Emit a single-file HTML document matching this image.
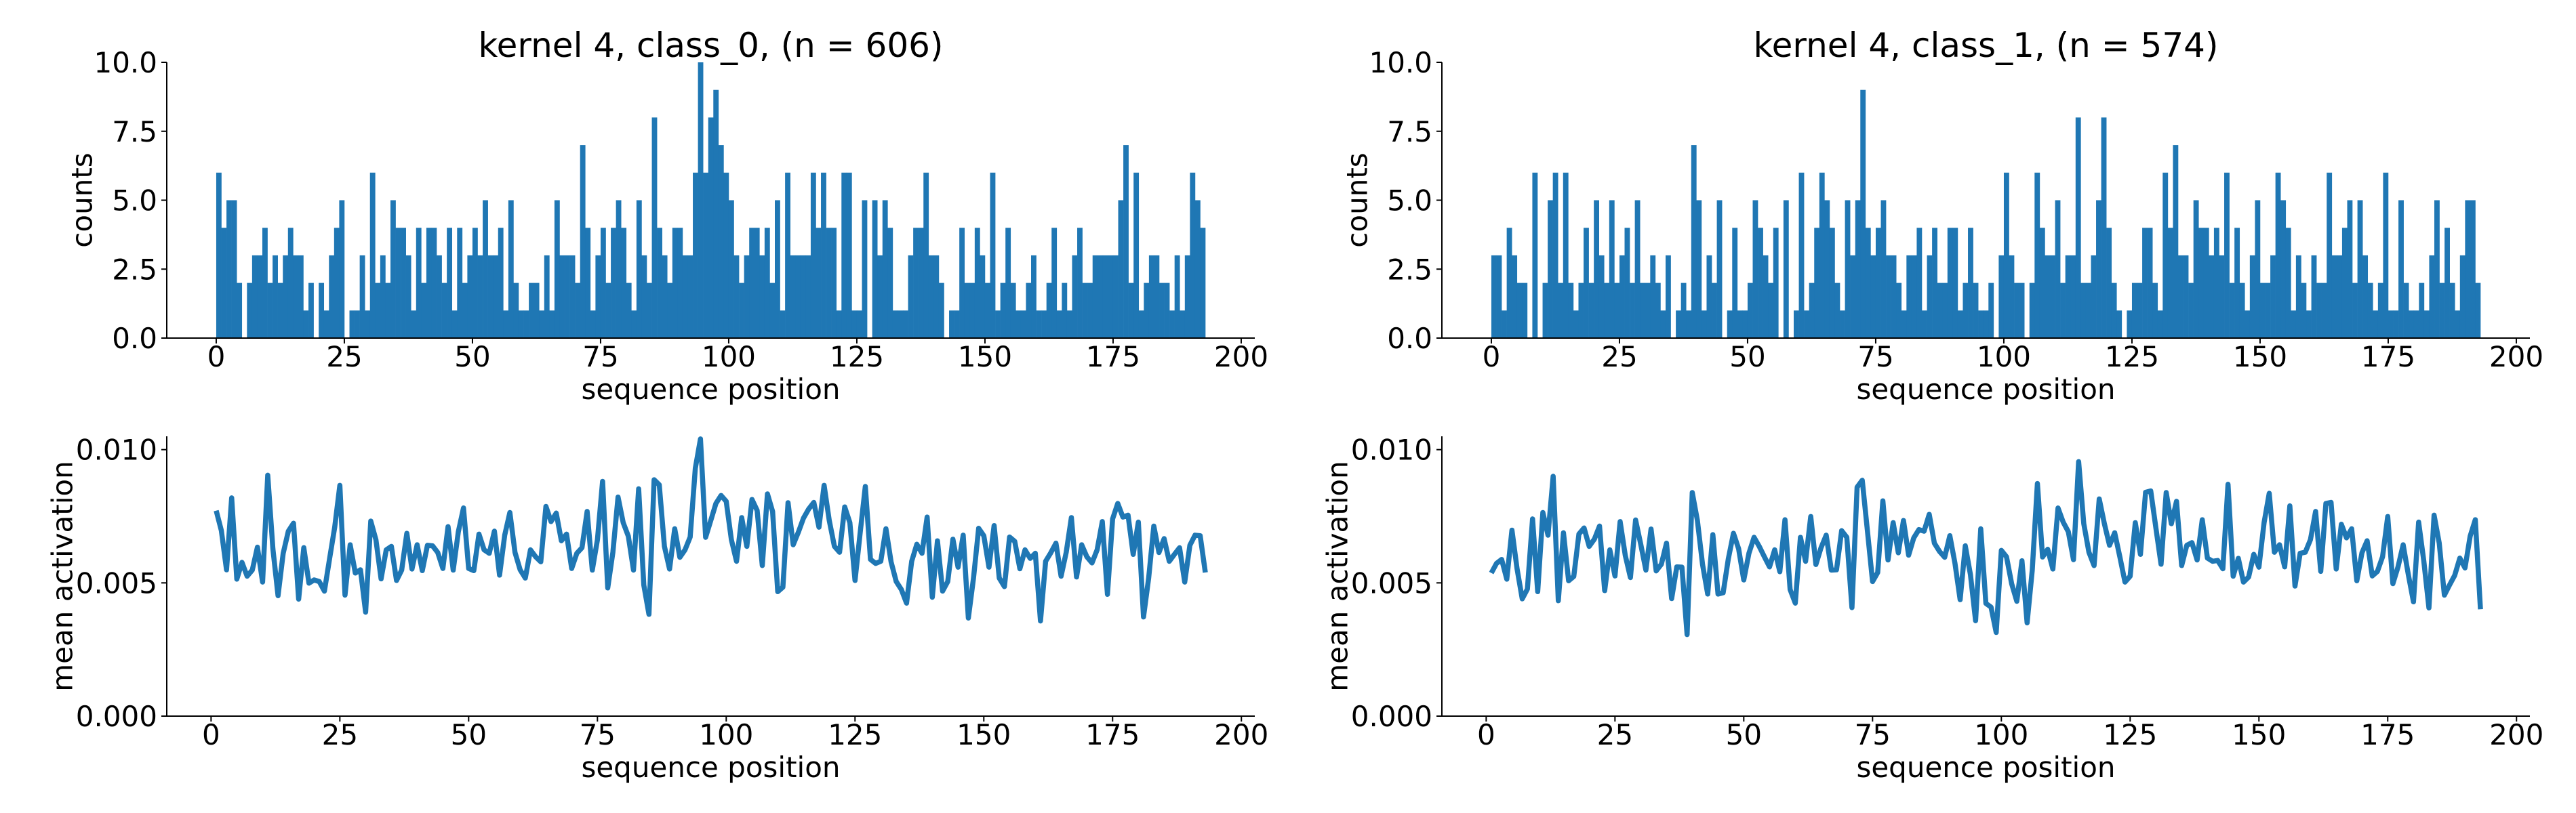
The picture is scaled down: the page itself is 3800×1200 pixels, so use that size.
<!DOCTYPE html>
<html><head><meta charset="utf-8">
<style>
html,body{margin:0;padding:0;background:#fff;}
svg{display:block;}
text{font-family:"DejaVu Sans","Liberation Sans",sans-serif;fill:#000;}
</style></head>
<body>
<svg id="chart" xmlns="http://www.w3.org/2000/svg" width="3800" height="1200" viewBox="0 0 3800 1200"></svg>
<script>
// ---- data ----
const histCounts0 = [6,4,5,5,2,0,2,3,3,4, 2,3,2,3,4,3,3,1,2,0, 2,1,3,4,5,0,1,1,3,1, 6,2,3,2,5,4,4,3,1,4, 2,4,4,3,2,4,1,4,2,3, 4,3,5,3,3,4,1,5,2,1, 1,2,2,1,3,1,5,3,3,3, 2,7,4,1,3,4,2,4,5,4, 2,1,5,3,2,8,4,3,2,4, 4,3,3,6,10,6,8,9,7,6, 5,3,2,3,4,4,3,4,2,5, 1,6,3,3,3,3,6,4,6,4, 4,1,6,6,1,1,5,0,5,3, 5,4,1,1,1,3,4,4,6,3, 3,2,0,1,1,4,2,2,4,3, 2,6,1,2,4,2,1,1,2,3, 1,1,2,4,1,2,1,3,4,2, 2,3,3,3,3,3,5,7,2,6, 1,2,3,3,2,2,1,3,1,3, 6,5,4];
const histCounts1 = [3,3,1,4,3,2,2,0,6,0, 2,5,6,2,6,2,1,2,4,2, 5,3,2,5,2,3,4,2,5,2, 2,3,2,1,3,0,1,2,1,7, 5,1,3,2,5,0,1,4,1,1, 2,5,4,3,2,4,0,5,0,1, 6,1,2,4,6,5,4,2,1,5, 3,5,9,4,3,4,5,3,3,2, 1,3,3,4,1,3,4,2,2,4, 4,1,2,4,2,1,1,2,0,3, 6,3,2,2,0,2,6,4,3,3, 5,2,3,3,8,2,2,3,5,8, 4,2,1,0,1,2,2,4,4,2, 1,6,4,7,3,3,2,5,4,4, 3,4,3,6,2,4,2,1,3,5, 2,2,3,6,5,4,1,3,2,1, 3,2,2,6,3,3,4,5,2,5, 3,2,1,2,6,1,1,5,2,1, 1,2,1,3,5,2,4,2,1,3, 5,5,2];
// mean activation values (x1e-3), positions 1..193
const meanAct0 = [7.71,6.96,5.49,8.19,5.14,5.77,5.25,5.48,6.34,5.03, 9.04,6.28,4.52,6.11,6.94,7.24,4.39,6.32,4.99,5.11, 5.05,4.69,5.90,7.09,8.66,4.54,6.43,5.37,5.49,3.90, 7.32,6.62,5.15,6.24,6.37,5.09,5.48,6.86,5.52,6.43, 5.46,6.41,6.39,6.14,5.54,7.11,5.48,6.92,7.81,5.54, 5.46,6.83,6.24,6.11,6.94,5.29,6.79,7.64,6.14,5.49, 5.18,6.24,5.98,5.79,7.87,7.30,7.62,6.58,6.83,5.54, 6.11,6.32,7.68,5.48,6.62,8.81,4.81,6.15,8.22,7.26, 6.75,5.48,8.53,4.92,3.82,8.87,8.68,6.37,5.52,7.03, 5.96,6.24,6.72,9.30,10.4,6.71,7.34,7.98,8.28,8.06, 6.62,5.81,7.45,6.37,8.13,7.72,5.65,8.34,7.68,4.67, 4.84,8.01,6.43,6.90,7.43,7.77,8.02,7.09,8.66,7.34, 6.37,6.15,7.85,7.26,5.09,6.88,8.62,5.88,5.73,5.81, 7.03,5.79,5.05,4.75,4.24,5.81,6.45,6.11,7.47,4.46, 6.58,4.69,5.05,6.64,5.59,6.79,3.68,5.18,7.05,6.77, 5.59,7.15,5.18,4.86,6.72,6.56,5.53,6.24,5.92,6.11, 3.57,5.81,6.13,6.49,5.25,6.15,7.45,5.22,6.43,5.98, 5.75,6.24,7.30,4.57,7.40,7.98,7.47,7.54,6.07,7.28, 3.72,5.18,7.13,6.14,6.66,5.81,6.07,6.32,5.03,6.41, 6.79,6.77,5.39];
const meanAct1 = [5.37,5.73,5.88,5.14,6.98,5.52,4.40,4.77,7.40,4.67, 7.64,6.79,9.00,4.33,6.88,5.08,5.24,6.83,7.06,6.37, 6.64,7.13,4.71,6.24,5.26,7.30,6.03,5.20,7.36,6.45, 5.48,7.02,5.45,5.70,6.49,4.41,5.60,5.59,3.06,8.39, 7.34,5.69,4.58,6.81,4.58,4.63,5.90,6.86,6.28,5.11, 6.11,6.71,6.37,5.98,5.60,6.24,5.42,7.37,4.75,4.24, 6.71,5.81,7.49,5.69,6.32,6.79,5.48,5.49,6.96,6.71, 4.07,8.59,8.85,6.96,5.05,5.39,8.08,5.86,7.26,6.13, 7.34,6.04,6.69,7.00,6.94,7.57,6.49,6.18,5.96,6.77, 5.73,4.37,6.39,5.31,3.58,7.03,4.23,4.09,3.14,6.22, 5.98,4.97,4.31,5.83,3.50,5.48,8.73,5.97,6.26,5.52, 7.81,7.28,6.92,5.87,9.55,7.22,6.15,5.65,8.15,7.22, 6.41,6.88,5.98,5.03,5.25,7.26,6.07,8.40,8.45,7.06, 5.70,8.39,7.22,8.06,5.65,6.41,6.51,5.86,7.37,5.93, 5.81,5.84,5.53,8.70,5.25,5.92,5.03,5.22,6.07,5.59, 7.26,8.36,6.15,6.43,5.60,7.89,4.88,6.11,6.15,6.62, 7.68,5.43,7.98,8.02,5.52,7.20,6.69,7.03,5.08,6.13, 6.58,5.26,5.43,5.98,7.49,4.97,5.60,6.43,5.31,4.29, 7.28,5.83,4.06,7.54,6.49,4.54,4.92,5.28,5.93,5.56, 6.75,7.37,4.01];
const titles = ["kernel 4, class_0, (n = 606)", "kernel 4, class_1, (n = 574)"];
const xTicks = [0,25,50,75,100,125,150,175,200];
const histYTicks = [0,2.5,5,7.5,10];
const histYTickLabels = ["0.0","2.5","5.0","7.5","10.0"];
const lineYTicks = [0,0.005,0.010];
const lineYTickLabels = ["0.000","0.005","0.010"];

// ---- layout ----
const svg = document.getElementById('chart');
const NS = 'http://www.w3.org/2000/svg';
const BLUE = '#1f77b4';
const FS = 42;
function mk(tag, attrs, parent){
  const e = document.createElementNS(NS, tag);
  for (const k in attrs) e.setAttribute(k, attrs[k]);
  (parent||svg).appendChild(e);
  return e;
}
function linScale(d0,d1,r0,r1){ return v => r0 + (v-d0)/(d1-d0)*(r1-r0); }

const panels = [
  {left:246, hist:histCounts0, line:meanAct0, title:titles[0], key:'class0'},
  {left:2127, hist:histCounts1, line:meanAct1, title:titles[1], key:'class1'}
];
const W = 1605;

panels.forEach(p => {
  const L = p.left, R = L + W;
  const hTop = 92, hBot = 499;
  const nb = p.hist.length;
  const hx = linScale(-0.05*nb, nb*1.05, L, R);
  const hy = linScale(0, 10, hBot, hTop);
  const gH = mk('g', {});
  
  
  p.hist.forEach((c, i) => {
    if (c <= 0) return;
    const r = mk('rect', {x: hx(i), y: hy(c), width: hx(i+1)-hx(i)+0.3, height: hy(0)-hy(c), fill: BLUE}, gH);
    
    
  });
  drawAxes(L, R, hTop, hBot, hx, hy, histYTicks, histYTickLabels, 'counts', p.key + '-hist');
  const t = mk('text', {x: (L+R)/2, y: 84, 'font-size': 50, 'text-anchor': 'middle'});
  t.textContent = p.title;
  
  

  const lTop = 644, lBot = 1057;
  const n = p.line.length;
  const lx = linScale(1 - 0.05*(n-1), n + 0.05*(n-1), L, R);
  const ly = linScale(0, 0.0105, lBot, lTop);
  const pts = p.line.map((v, i) => lx(i+1).toFixed(2) + ',' + ly(v*1e-3).toFixed(2)).join(' ');
  const pl = mk('polyline', {points: pts, fill: 'none', stroke: BLUE, 'stroke-width': 7.5, 'stroke-linejoin': 'round'});
  
  
  drawAxes(L, R, lTop, lBot, lx, ly, lineYTicks, lineYTickLabels, 'mean activation', p.key + '-line');
});

function drawAxes(L, R, top, bot, sx, sy, yt, ytl, ylabel, key){
  const g = mk('g', {});
  
  
  mk('line', {x1: L, y1: top, x2: L, y2: bot+1, stroke: '#000', 'stroke-width': 2}, g);
  mk('line', {x1: L-1, y1: bot, x2: R, y2: bot, stroke: '#000', 'stroke-width': 2}, g);
  xTicks.forEach(v => {
    const x = sx(v);
    mk('line', {x1: x, y1: bot, x2: x, y2: bot+8, stroke: '#000', 'stroke-width': 2}, g);
    const tl = mk('text', {x: x, y: bot+42, 'font-size': FS, 'text-anchor': 'middle'}, g);
    tl.textContent = String(v);
    
    
  });
  yt.forEach((v, i) => {
    const y = sy(v);
    mk('line', {x1: L-8, y1: y, x2: L, y2: y, stroke: '#000', 'stroke-width': 2}, g);
    const tl = mk('text', {x: L-14, y: y+15, 'font-size': FS, 'text-anchor': 'end'}, g);
    tl.textContent = ytl[i];
    
    
  });
  const xl = mk('text', {x: (L+R)/2, y: bot+90, 'font-size': FS, 'text-anchor': 'middle'}, g);
  xl.textContent = 'sequence position';
  
  
  const cx = ylabel === 'counts' ? L-125 : L-154;
  const cy = (top+bot)/2;
  const yl = mk('text', {x: cx, y: cy, 'font-size': FS, 'text-anchor': 'middle', 'dominant-baseline': 'central', transform: 'rotate(-90 ' + cx + ' ' + cy + ')'}, g);
  yl.textContent = ylabel;
  
  
}
</script>
</body></html>
